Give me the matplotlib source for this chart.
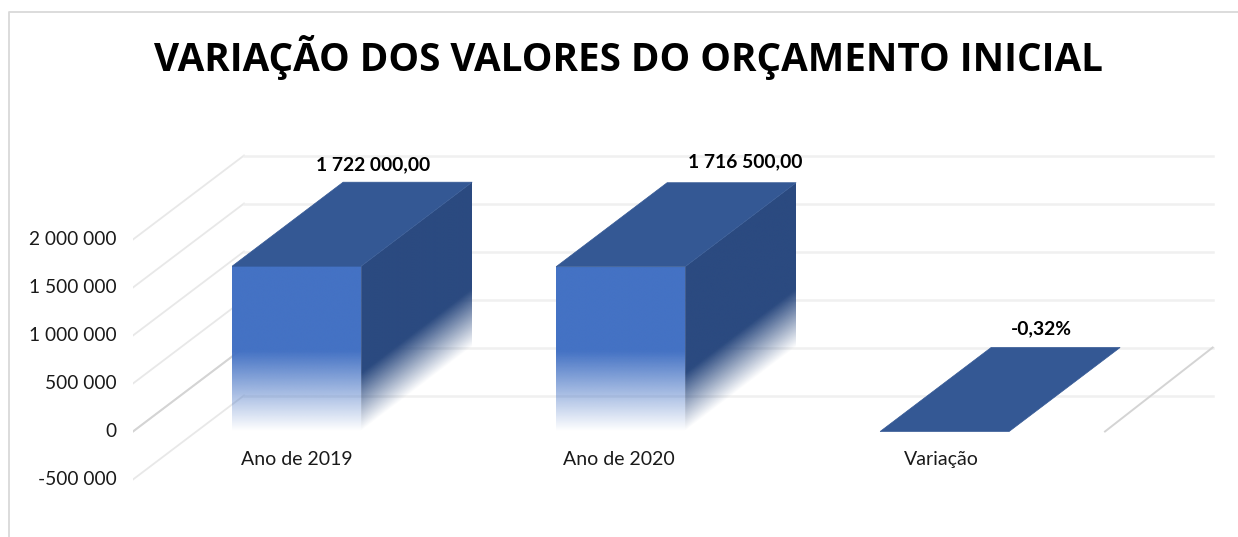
"""Pseudo-3D column chart of the initial budget variation."""

import numpy as np
import matplotlib.pyplot as plt
from matplotlib.colors import to_rgb
from matplotlib.lines import Line2D
from matplotlib.patches import Polygon

TITLE = "VARIAÇÃO DOS VALORES DO ORÇAMENTO INICIAL"
categories = ["Ano de 2019", "Ano de 2020", "Variação"]
values = [1722000, 1716500, -0.0032]
value_labels = ["1 722 000,00", "1 716 500,00", "-0,32%"]
y_ticks = [-500000, 0, 500000, 1000000, 1500000, 2000000]
y_tick_labels = ["-500 000", "0", "500 000", "1 000 000", "1 500 000", "2 000 000"]

# pixel layout of the picture
W, H = 1238, 537
LEFT_PX = 133
ZERO_PX = 431.5
PX_PER_CAT = 324
PX_PER_UNIT = 96 / 1000000
DEPTH_X_PX, DEPTH_Y_PX = 111, 84

DEPTH_X = DEPTH_X_PX / PX_PER_CAT
DEPTH_Y = DEPTH_Y_PX / PX_PER_UNIT
BAR_W = 129 / PX_PER_CAT
X_START = -0.505

FRONT = "#4472C4"
TOP = "#345894"
SIDE = "#2B4A80"
FONT = "Lato"


def fade_face(ax, corners, color, fade, shear):
    """Fill a polygon with a colour fading to transparent at its lower edge."""
    corners = np.array(corners)
    x0, x1 = corners[:, 0].min(), corners[:, 0].max()
    y0, y1 = corners[:, 1].min(), corners[:, 1].max()
    xx, yy = np.meshgrid(np.linspace(x0, x1, 300), np.linspace(y0, y1, 600))
    height = yy - y0 - shear * (xx - x0)
    rgba = np.zeros(xx.shape + (4,))
    rgba[..., :3] = to_rgb(color)
    rgba[..., 3] = np.clip(height / fade, 0, 1)
    im = ax.imshow(rgba, extent=(x0, x1, y0, y1), origin="lower", aspect="auto",
                   zorder=3, interpolation="bilinear")
    im.set_clip_path(Polygon(corners, transform=ax.transData))


def main():
    plt.rcParams["font.family"] = [FONT, "DejaVu Sans"]
    fig = plt.figure(figsize=(W / 100, H / 100), dpi=100, facecolor="white")
    ax = fig.add_axes([LEFT_PX / W, 0, 1 - LEFT_PX / W, 1])
    xlim = (X_START, X_START + (W - LEFT_PX) / PX_PER_CAT)
    ylim = (-(H - ZERO_PX) / PX_PER_UNIT, ZERO_PX / PX_PER_UNIT)

    x_end = X_START + len(categories)
    back_end = x_end + DEPTH_X * 0.97

    # walls: diagonal on the left, horizontal at the back
    for tick in y_ticks:
        ax.plot([X_START, X_START + DEPTH_X], [tick, tick + DEPTH_Y],
                color="#e8e8e8", lw=1.3, zorder=1)
        ax.plot([X_START + DEPTH_X, back_end], [tick + DEPTH_Y] * 2,
                color="#f0f0f0", lw=1.8, zorder=1)

    # floor edges at zero
    ax.plot([X_START, X_START + DEPTH_X], [0, DEPTH_Y], color="#d4d4d4", lw=1.4, zorder=2)
    ax.plot([x_end, back_end], [0, DEPTH_Y], color="#d4d4d4", lw=1.4, zorder=2)

    label_dx = [21, 69, 41]
    label_dy = [17, 21, 19]
    for i, (val, txt) in enumerate(zip(values, value_labels)):
        x0 = i - BAR_W / 2
        x1 = i + BAR_W / 2
        top = max(val, 0)
        if top > 0:
            fade_face(ax, [(x0, 0), (x1, 0), (x1, top), (x0, top)], FRONT, 830000, 0)
            fade_face(ax, [(x1, 0), (x1 + DEPTH_X, DEPTH_Y), (x1 + DEPTH_X, top + DEPTH_Y), (x1, top)],
                      SIDE, 600000, DEPTH_Y / DEPTH_X)
        ax.add_patch(Polygon([(x0, top), (x1, top), (x1 + DEPTH_X, top + DEPTH_Y),
                              (x0 + DEPTH_X, top + DEPTH_Y)], facecolor=TOP, edgecolor=TOP,
                             lw=0.5, zorder=4))
        ax.annotate(txt, (i + DEPTH_X / 2, top + DEPTH_Y),
                    xytext=(label_dx[i], label_dy[i]), textcoords="offset pixels",
                    ha="center", va="center", fontsize=13.9, fontweight="bold", color="black", zorder=6)
        ax.annotate(categories[i], (i, 0), xytext=(-i * 1.7, -28), textcoords="offset pixels",
                    ha="center", va="center", fontsize=14, color="#1a1a1a", zorder=6)

    ax.set_xlim(xlim)
    ax.set_ylim(ylim)
    ax.set_xticks([])
    ax.set_yticks(y_ticks)
    ax.set_yticklabels(y_tick_labels, fontsize=13.8, color="#1a1a1a", va="center")
    ax.tick_params(axis="y", length=0, pad=12)
    for spine in ax.spines.values():
        spine.set_visible(False)
    ax.patch.set_alpha(0)

    fig.text(628.5 / W, 1 - 58 / H, TITLE, ha="center", va="center", family="Open Sans",
             fontsize=27.8, fontweight="bold", color="black")

    # chart frame, cropped on the right and at the bottom
    fig.add_artist(Line2D([9 / W, 9 / W, 1], [0, 1 - 12 / H, 1 - 12 / H], color="#d9d9d9", lw=1.3))

    fig.savefig("out.png", dpi=100)


if __name__ == "__main__":
    main()
